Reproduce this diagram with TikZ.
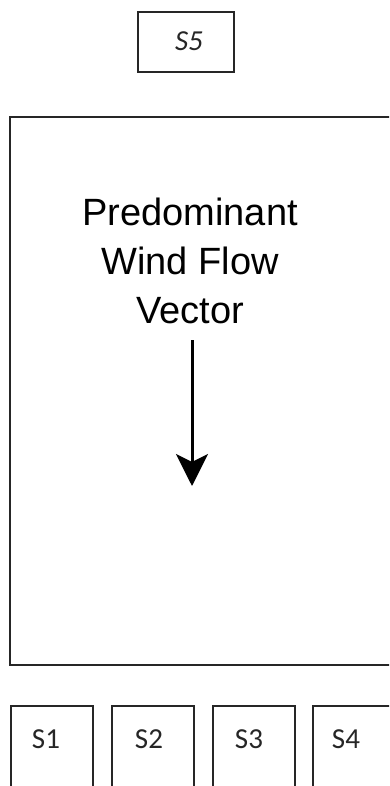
\documentclass[tikz,border=0pt]{standalone}
\usepackage{fontspec}
\setmainfont{Liberation Sans}
\newfontfamily\boxfont{Carlito}
\usetikzlibrary{arrows.meta}
\begin{document}
\begin{tikzpicture}[x=1pt,y=-1pt,
  frame/.style={draw=black!85, line width=2.2pt, inner sep=0pt},
  sensor/.style={frame, minimum width=82pt, minimum height=110pt},
  tag/.style={font=\boxfont\fontsize{29}{32}\selectfont, inner sep=0pt, text=black!85},
  headline/.style={font=\fontsize{38}{49}\selectfont, align=center, inner sep=0pt}]
  \useasboundingbox (0,0) rectangle (389,786);
  \clip (0,0) rectangle (389,786);
  % upwind sensor
  \node[frame, minimum width=96pt, minimum height=60pt] (s5) at (186,42) {};
  \node[tag, font=\boxfont\itshape\fontsize{29}{32}\selectfont] (t5) at (189,41) {S5};
  % study area
  \node[frame, minimum width=400pt, minimum height=548pt] (area) at (210,391) {};
  \node[headline] (title) at (190,261) {Predominant\\Wind Flow\\Vector};
  \coordinate (wtop) at (192,340);
  \coordinate (wbot) at (192,486);
  \draw[line width=3pt, -{Stealth[length=32pt,width=32pt,inset=8pt]}] (wtop) -- (wbot);
  % downwind sensors
  \node[sensor] (s1) at (52,761) {};
  \node[sensor] (s2) at (153,761) {};
  \node[sensor] (s3) at (254,761) {};
  \node[sensor] (s4) at (354,761) {};
  \node[tag] (t1) at (46,739) {S1};
  \node[tag] (t2) at (149,739) {S2};
  \node[tag] (t3) at (249,739) {S3};
  \node[tag] (t4) at (346,739) {S4};
\end{tikzpicture}
\end{document}
